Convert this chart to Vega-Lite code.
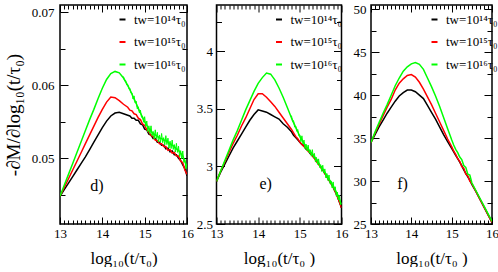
{
  "$schema": "https://vega.github.io/schema/vega-lite/v6.json",
  "padding": {"left": 3, "top": 2, "right": 0, "bottom": 0},
  "autosize": {"type": "pad"},
  "bounds": "flush",
  "spacing": 29.5,
  "config": {
    "font": "Liberation Serif",
    "view": {"stroke": "#000000", "strokeWidth": 1.5},
    "axis": {"domain": false, "grid": false, "tickColor": "#000000", "tickWidth": 1, "labelColor": "#000000", "titleColor": "#000000", "labelFont": "Liberation Serif", "titleFont": "Liberation Serif", "labelFontSize": 13, "titleFontWeight": "normal", "labelOverlap": false, "labelBound": false, "labelFlush": false, "format": "~g"},
    "legend": {"orient": "none", "legendX": 56, "legendY": 8, "title": null, "symbolType": "stroke", "symbolSize": 36, "symbolStrokeWidth": 2, "labelFont": "Liberation Serif", "labelFontSize": 13, "labelColor": "#000000", "rowPadding": 8.5, "labelOffset": 5, "padding": 0}
  },
  "datasets": {
    "d": [
      {"t": 13.0, "a": 0.0448, "b": 0.0448, "c": 0.0448},
      {"t": 13.1, "a": 0.0457, "b": 0.0460, "c": 0.0463},
      {"t": 13.2, "a": 0.0466, "b": 0.0472, "c": 0.0478},
      {"t": 13.3, "a": 0.0475, "b": 0.0484, "c": 0.0493},
      {"t": 13.4, "a": 0.0484, "b": 0.0496, "c": 0.0508},
      {"t": 13.5, "a": 0.0493, "b": 0.0508, "c": 0.0523},
      {"t": 13.6, "a": 0.0502, "b": 0.0520, "c": 0.0538},
      {"t": 13.7, "a": 0.0512, "b": 0.0532, "c": 0.0553},
      {"t": 13.8, "a": 0.0522, "b": 0.0544, "c": 0.0567},
      {"t": 13.9, "a": 0.0532, "b": 0.0556, "c": 0.0582},
      {"t": 14.0, "a": 0.0542, "b": 0.0567, "c": 0.0596},
      {"t": 14.1, "a": 0.0551, "b": 0.0577, "c": 0.0608},
      {"t": 14.2, "a": 0.0558, "b": 0.0584, "c": 0.0616},
      {"t": 14.3, "a": 0.0562, "b": 0.0583, "c": 0.0619},
      {"t": 14.4, "a": 0.0563, "b": 0.0579, "c": 0.0617},
      {"t": 14.5, "a": 0.0561, "b": 0.0574, "c": 0.0610},
      {"t": 14.6, "a": 0.0559, "b": 0.0570, "c": 0.0600},
      {"t": 14.65, "a": 0.0558, "b": 0.0566, "c": 0.0594},
      {"t": 14.7, "a": 0.0555, "b": 0.0565, "c": 0.0588},
      {"t": 14.75, "a": 0.0555, "b": 0.0561, "c": 0.0581},
      {"t": 14.8, "a": 0.0552, "b": 0.0560, "c": 0.0575},
      {"t": 14.85, "a": 0.0552, "b": 0.0555, "c": 0.0568},
      {"t": 14.9, "a": 0.0547, "b": 0.0553, "c": 0.0562},
      {"t": 14.95, "a": 0.0546, "b": 0.0547, "c": 0.0556},
      {"t": 15.0, "a": 0.0540, "b": 0.0545, "c": 0.0550},
      {"t": 15.05, "a": 0.0539, "b": 0.0539, "c": 0.0545},
      {"t": 15.1, "a": 0.0533, "b": 0.0536, "c": 0.0541},
      {"t": 15.15, "a": 0.0532, "b": 0.0531, "c": 0.0537},
      {"t": 15.2, "a": 0.0527, "b": 0.0530, "c": 0.0534},
      {"t": 15.25, "a": 0.0527, "b": 0.0525, "c": 0.0532},
      {"t": 15.3, "a": 0.0522, "b": 0.0524, "c": 0.0530},
      {"t": 15.35, "a": 0.0522, "b": 0.0520, "c": 0.0528},
      {"t": 15.4, "a": 0.0518, "b": 0.0520, "c": 0.0527},
      {"t": 15.45, "a": 0.0518, "b": 0.0516, "c": 0.0525},
      {"t": 15.5, "a": 0.0513, "b": 0.0516, "c": 0.0524},
      {"t": 15.55, "a": 0.0514, "b": 0.0511, "c": 0.0522},
      {"t": 15.6, "a": 0.0509, "b": 0.0512, "c": 0.0520},
      {"t": 15.65, "a": 0.0510, "b": 0.0507, "c": 0.0518},
      {"t": 15.7, "a": 0.0505, "b": 0.0508, "c": 0.0516},
      {"t": 15.75, "a": 0.0505, "b": 0.0503, "c": 0.0513},
      {"t": 15.8, "a": 0.0500, "b": 0.0503, "c": 0.0511},
      {"t": 15.85, "a": 0.0497, "b": 0.0496, "c": 0.0507},
      {"t": 15.9, "a": 0.0491, "b": 0.0494, "c": 0.0503},
      {"t": 15.95, "a": 0.0486, "b": 0.0484, "c": 0.0496},
      {"t": 16.0, "a": 0.0476, "b": 0.0478, "c": 0.0488}
    ],
    "dg": [
      {"t": 14.5, "v": 0.0612}, {"t": 14.525, "v": 0.06063}, {"t": 14.55, "v": 0.06068}, {"t": 14.575, "v": 0.06005},
      {"t": 14.6, "v": 0.0601}, {"t": 14.625, "v": 0.05954}, {"t": 14.65, "v": 0.0596}, {"t": 14.675, "v": 0.05896},
      {"t": 14.7, "v": 0.05896}, {"t": 14.725, "v": 0.05812}, {"t": 14.75, "v": 0.05855}, {"t": 14.775, "v": 0.05759},
      {"t": 14.8, "v": 0.05782}, {"t": 14.825, "v": 0.05678}, {"t": 14.85, "v": 0.05705}, {"t": 14.875, "v": 0.05621},
      {"t": 14.9, "v": 0.0566}, {"t": 14.925, "v": 0.05562}, {"t": 14.95, "v": 0.05576}, {"t": 14.975, "v": 0.05494},
      {"t": 15.0, "v": 0.0557}, {"t": 15.025, "v": 0.05436}, {"t": 15.05, "v": 0.05511}, {"t": 15.075, "v": 0.05363},
      {"t": 15.1, "v": 0.05445}, {"t": 15.125, "v": 0.05337}, {"t": 15.15, "v": 0.05445}, {"t": 15.175, "v": 0.05309},
      {"t": 15.2, "v": 0.05368}, {"t": 15.225, "v": 0.05267}, {"t": 15.25, "v": 0.0539}, {"t": 15.275, "v": 0.05268},
      {"t": 15.3, "v": 0.05356}, {"t": 15.325, "v": 0.05223}, {"t": 15.35, "v": 0.0532}, {"t": 15.375, "v": 0.05222},
      {"t": 15.4, "v": 0.0534}, {"t": 15.425, "v": 0.05214}, {"t": 15.45, "v": 0.05283}, {"t": 15.475, "v": 0.05185},
      {"t": 15.5, "v": 0.0531}, {"t": 15.525, "v": 0.05188}, {"t": 15.55, "v": 0.05276}, {"t": 15.575, "v": 0.0514},
      {"t": 15.6, "v": 0.05235}, {"t": 15.625, "v": 0.05134}, {"t": 15.65, "v": 0.0525}, {"t": 15.675, "v": 0.05121},
      {"t": 15.7, "v": 0.05188}, {"t": 15.725, "v": 0.05085}, {"t": 15.75, "v": 0.05205}, {"t": 15.775, "v": 0.05081},
      {"t": 15.8, "v": 0.05166}, {"t": 15.825, "v": 0.0502}, {"t": 15.85, "v": 0.05105}, {"t": 15.875, "v": 0.04994},
      {"t": 15.9, "v": 0.051}, {"t": 15.925, "v": 0.04944}, {"t": 15.95, "v": 0.04983}, {"t": 15.975, "v": 0.04855},
      {"t": 16.0, "v": 0.0492}
    ],
    "e": [
      {"t": 13.0, "a": 2.87, "b": 2.87, "c": 2.87},
      {"t": 13.1, "a": 2.95, "b": 2.96, "c": 2.96},
      {"t": 13.2, "a": 3.02, "b": 3.04, "c": 3.05},
      {"t": 13.3, "a": 3.09, "b": 3.12, "c": 3.14},
      {"t": 13.4, "a": 3.16, "b": 3.20, "c": 3.23},
      {"t": 13.5, "a": 3.22, "b": 3.27, "c": 3.31},
      {"t": 13.6, "a": 3.28, "b": 3.35, "c": 3.40},
      {"t": 13.7, "a": 3.34, "b": 3.42, "c": 3.49},
      {"t": 13.8, "a": 3.40, "b": 3.50, "c": 3.57},
      {"t": 13.9, "a": 3.45, "b": 3.58, "c": 3.65},
      {"t": 14.0, "a": 3.49, "b": 3.63, "c": 3.72},
      {"t": 14.1, "a": 3.48, "b": 3.63, "c": 3.77},
      {"t": 14.2, "a": 3.47, "b": 3.60, "c": 3.81},
      {"t": 14.3, "a": 3.45, "b": 3.56, "c": 3.80},
      {"t": 14.4, "a": 3.43, "b": 3.52, "c": 3.75},
      {"t": 14.5, "a": 3.41, "b": 3.47, "c": 3.68},
      {"t": 14.6, "a": 3.37, "b": 3.42, "c": 3.60},
      {"t": 14.7, "a": 3.34, "b": 3.37, "c": 3.51},
      {"t": 14.8, "a": 3.30, "b": 3.32, "c": 3.42},
      {"t": 14.85, "a": 3.27, "b": 3.29, "c": 3.38},
      {"t": 14.9, "a": 3.25, "b": 3.26, "c": 3.34},
      {"t": 14.95, "a": 3.23, "b": 3.24, "c": 3.30},
      {"t": 15.0, "a": 3.21, "b": 3.21, "c": 3.26},
      {"t": 15.05, "a": 3.19, "b": 3.19, "c": 3.23},
      {"t": 15.1, "a": 3.18, "b": 3.17, "c": 3.20},
      {"t": 15.15, "a": 3.15, "b": 3.16, "c": 3.175},
      {"t": 15.2, "a": 3.14, "b": 3.13, "c": 3.15},
      {"t": 15.25, "a": 3.11, "b": 3.12, "c": 3.13},
      {"t": 15.3, "a": 3.10, "b": 3.09, "c": 3.11},
      {"t": 15.35, "a": 3.07, "b": 3.07, "c": 3.085},
      {"t": 15.4, "a": 3.06, "b": 3.04, "c": 3.06},
      {"t": 15.45, "a": 3.02, "b": 3.02, "c": 3.03},
      {"t": 15.5, "a": 3.00, "b": 2.99, "c": 3.00},
      {"t": 15.55, "a": 2.97, "b": 2.97, "c": 2.975},
      {"t": 15.6, "a": 2.94, "b": 2.94, "c": 2.95},
      {"t": 15.65, "a": 2.91, "b": 2.91, "c": 2.92},
      {"t": 15.7, "a": 2.88, "b": 2.88, "c": 2.89},
      {"t": 15.75, "a": 2.85, "b": 2.85, "c": 2.86},
      {"t": 15.8, "a": 2.82, "b": 2.82, "c": 2.83},
      {"t": 15.85, "a": 2.78, "b": 2.78, "c": 2.795},
      {"t": 15.9, "a": 2.74, "b": 2.74, "c": 2.76},
      {"t": 15.95, "a": 2.69, "b": 2.69, "c": 2.715},
      {"t": 16.0, "a": 2.64, "b": 2.64, "c": 2.67}
    ],
    "eg": [
      {"t": 14.8, "v": 3.44}, {"t": 14.825, "v": 3.388}, {"t": 14.85, "v": 3.396}, {"t": 14.875, "v": 3.34},
      {"t": 14.9, "v": 3.35}, {"t": 14.925, "v": 3.304}, {"t": 14.95, "v": 3.32}, {"t": 14.975, "v": 3.266},
      {"t": 15.0, "v": 3.274}, {"t": 15.025, "v": 3.2135}, {"t": 15.05, "v": 3.265}, {"t": 15.075, "v": 3.194},
      {"t": 15.1, "v": 3.228}, {"t": 15.125, "v": 3.1525}, {"t": 15.15, "v": 3.1925}, {"t": 15.175, "v": 3.1345},
      {"t": 15.2, "v": 3.185}, {"t": 15.225, "v": 3.1155}, {"t": 15.25, "v": 3.144}, {"t": 15.275, "v": 3.0885},
      {"t": 15.3, "v": 3.145}, {"t": 15.325, "v": 3.0765}, {"t": 15.35, "v": 3.113}, {"t": 15.375, "v": 3.0375},
      {"t": 15.4, "v": 3.0775}, {"t": 15.425, "v": 3.017}, {"t": 15.45, "v": 3.065}, {"t": 15.475, "v": 2.9905},
      {"t": 15.5, "v": 3.014}, {"t": 15.525, "v": 2.956}, {"t": 15.55, "v": 3.01}, {"t": 15.575, "v": 2.9415},
      {"t": 15.6, "v": 2.978}, {"t": 15.625, "v": 2.90}, {"t": 15.65, "v": 2.9375}, {"t": 15.675, "v": 2.877},
      {"t": 15.7, "v": 2.925}, {"t": 15.725, "v": 2.8505}, {"t": 15.75, "v": 2.874}, {"t": 15.775, "v": 2.8135},
      {"t": 15.8, "v": 2.865}, {"t": 15.825, "v": 2.7915}, {"t": 15.85, "v": 2.823}, {"t": 15.875, "v": 2.7425},
      {"t": 15.9, "v": 2.7775}, {"t": 15.925, "v": 2.7095}, {"t": 15.95, "v": 2.75}, {"t": 15.975, "v": 2.668},
      {"t": 16.0, "v": 2.684}
    ],
    "f": [
      {"t": 13.0, "a": 34.5, "b": 34.5, "c": 34.5},
      {"t": 13.1, "a": 35.4, "b": 35.6, "c": 35.7},
      {"t": 13.2, "a": 36.3, "b": 36.6, "c": 36.8},
      {"t": 13.3, "a": 37.1, "b": 37.6, "c": 37.9},
      {"t": 13.4, "a": 37.9, "b": 38.6, "c": 38.9},
      {"t": 13.5, "a": 38.6, "b": 39.5, "c": 40.0},
      {"t": 13.6, "a": 39.3, "b": 40.6, "c": 41.1},
      {"t": 13.7, "a": 39.9, "b": 41.4, "c": 42.0},
      {"t": 13.8, "a": 40.3, "b": 41.9, "c": 42.8},
      {"t": 13.9, "a": 40.6, "b": 42.3, "c": 43.3},
      {"t": 14.0, "a": 40.6, "b": 42.4, "c": 43.65},
      {"t": 14.1, "a": 40.4, "b": 42.1, "c": 43.8},
      {"t": 14.2, "a": 40.0, "b": 41.5, "c": 43.6},
      {"t": 14.3, "a": 39.6, "b": 40.7, "c": 43.0},
      {"t": 14.4, "a": 38.8, "b": 39.8, "c": 42.0},
      {"t": 14.5, "a": 38.0, "b": 38.9, "c": 41.0},
      {"t": 14.6, "a": 37.2, "b": 37.9, "c": 39.9},
      {"t": 14.7, "a": 36.3, "b": 36.9, "c": 38.7},
      {"t": 14.8, "a": 35.4, "b": 35.9, "c": 37.4},
      {"t": 14.9, "a": 34.6, "b": 34.9, "c": 36.1},
      {"t": 15.0, "a": 33.8, "b": 34.0, "c": 34.8},
      {"t": 15.05, "a": 33.4, "b": 33.5, "c": 34.2},
      {"t": 15.1, "a": 33.0, "b": 33.1, "c": 33.7},
      {"t": 15.15, "a": 32.6, "b": 32.6, "c": 33.3},
      {"t": 15.2, "a": 32.2, "b": 32.3, "c": 32.8},
      {"t": 15.25, "a": 31.8, "b": 31.7, "c": 32.5},
      {"t": 15.3, "a": 31.3, "b": 31.5, "c": 31.8},
      {"t": 15.35, "a": 30.9, "b": 30.8, "c": 31.6},
      {"t": 15.4, "a": 30.5, "b": 30.6, "c": 30.8},
      {"t": 15.45, "a": 30.1, "b": 30.0, "c": 30.7},
      {"t": 15.5, "a": 29.6, "b": 29.7, "c": 29.8},
      {"t": 15.6, "a": 28.8, "b": 28.8, "c": 28.9},
      {"t": 15.7, "a": 27.9, "b": 27.9, "c": 28.0},
      {"t": 15.8, "a": 27.0, "b": 27.0, "c": 27.1},
      {"t": 15.9, "a": 26.1, "b": 26.1, "c": 26.2},
      {"t": 16.0, "a": 25.2, "b": 25.2, "c": 25.3}
    ]
  },
  "resolve": {"scale": {"color": "independent", "x": "independent", "y": "independent"}, "legend": {"color": "independent"}},
  "hconcat": [
    {
      "width": 127, "height": 219,
      "layer": [
        {
          "data": {"name": "d"},
          "transform": [{"fold": ["a", "b", "c"], "as": ["s", "v"]}],
          "mark": {"type": "line", "strokeWidth": 1.5, "clip": true},
          "encoding": {
            "x": {"field": "t", "type": "quantitative", "scale": {"domain": [13, 16], "nice": false, "zero": false},
              "axis": {"orient": "bottom", "title": "log₁₀(t/τ₀)", "titleFontSize": 17, "titlePadding": 7, "labelPadding": 10, "values": [13,13.1,13.2,13.3,13.4,13.5,13.6,13.7,13.8,13.9,14,14.1,14.2,14.3,14.4,14.5,14.6,14.7,14.8,14.9,15,15.1,15.2,15.3,15.4,15.5,15.6,15.7,15.8,15.9,16],
                "labelExpr": "abs(datum.value-round(datum.value))<0.001 ? datum.label : ''",
                "tickSize": {"condition": {"test": "abs(datum.value-round(datum.value))<0.001", "value": -7}, "value": -4}}},
            "y": {"field": "v", "type": "quantitative", "scale": {"domain": [0.041, 0.071], "nice": false, "zero": false},
              "axis": {"orient": "left", "title": "-∂M/∂log₁₀(t/τ₀)", "titleFontSize": 19, "titlePadding": 8, "labelPadding": 14, "values": [0.045,0.05,0.055,0.06,0.065,0.07],
                "labelExpr": "abs(datum.value*100-round(datum.value*100))<0.001 ? datum.label : ''",
                "tickSize": {"condition": {"test": "abs(datum.value*100-round(datum.value*100))<0.001", "value": -8}, "value": -5}}},
            "color": {"field": "s", "type": "nominal", "scale": {"domain": ["a", "b", "c"], "range": ["#000000", "#ff0000", "#00ff00"]},
              "legend": {"orient": "none", "legendX": 56, "legendY": 8, "labelExpr": "datum.value=='a' ? 'tw=10¹⁴τ₀' : datum.value=='b' ? 'tw=10¹⁵τ₀' : 'tw=10¹⁶τ₀'"}}
          }
        },
        {
          "data": {"name": "dg"},
          "mark": {"type": "line", "strokeWidth": 1, "color": "#00ff00", "clip": true},
          "encoding": {
            "x": {"field": "t", "type": "quantitative", "scale": {"domain": [13, 16], "nice": false, "zero": false}, "axis": null},
            "y": {"field": "v", "type": "quantitative", "scale": {"domain": [0.041, 0.071], "nice": false, "zero": false}, "axis": null}
          }
        },
        {
          "data": {"values": [{"t": 13.87, "v": 0.0462, "lab": "d)"}]},
          "mark": {"type": "text", "fontSize": 16, "font": "Liberation Serif", "color": "#000000"},
          "encoding": {
            "x": {"field": "t", "type": "quantitative", "scale": {"domain": [13, 16], "nice": false, "zero": false}, "axis": null},
            "y": {"field": "v", "type": "quantitative", "scale": {"domain": [0.041, 0.071], "nice": false, "zero": false}, "axis": null},
            "text": {"field": "lab"}
          }
        },
        {
          "data": {"name": "d"},
          "mark": {"type": "point", "opacity": 0},
          "encoding": {
            "x": {"field": "t", "type": "quantitative", "scale": {"domain": [13, 16], "nice": false, "zero": false},
              "axis": {"orient": "top", "title": null, "labels": false, "values": [13,13.1,13.2,13.3,13.4,13.5,13.6,13.7,13.8,13.9,14,14.1,14.2,14.3,14.4,14.5,14.6,14.7,14.8,14.9,15,15.1,15.2,15.3,15.4,15.5,15.6,15.7,15.8,15.9,16],
                "tickSize": {"condition": {"test": "abs(datum.value-round(datum.value))<0.001", "value": -7}, "value": -4}}},
            "y": {"field": "a", "type": "quantitative", "scale": {"domain": [0.041, 0.071], "nice": false, "zero": false},
              "axis": {"orient": "right", "title": null, "labels": false, "values": [0.045,0.05,0.055,0.06,0.065,0.07],
                "tickSize": {"condition": {"test": "abs(datum.value*100-round(datum.value*100))<0.001", "value": -8}, "value": -5}}}
          }
        }
      ]
    },
    {
      "width": 125, "height": 219,
      "layer": [
        {
          "data": {"name": "e"},
          "transform": [{"fold": ["a", "b", "c"], "as": ["s", "v"]}],
          "mark": {"type": "line", "strokeWidth": 1.5, "clip": true},
          "encoding": {
            "x": {"field": "t", "type": "quantitative", "scale": {"domain": [13, 16], "nice": false, "zero": false},
              "axis": {"orient": "bottom", "title": "log₁₀(t/τ₀ )", "titleFontSize": 17, "titlePadding": 7, "labelPadding": 10, "values": [13,13.1,13.2,13.3,13.4,13.5,13.6,13.7,13.8,13.9,14,14.1,14.2,14.3,14.4,14.5,14.6,14.7,14.8,14.9,15,15.1,15.2,15.3,15.4,15.5,15.6,15.7,15.8,15.9,16],
                "labelExpr": "abs(datum.value-round(datum.value))<0.001 ? datum.label : ''",
                "tickSize": {"condition": {"test": "abs(datum.value-round(datum.value))<0.001", "value": -7}, "value": -4}}},
            "y": {"field": "v", "type": "quantitative", "scale": {"domain": [2.5, 4.4], "nice": false, "zero": false},
              "axis": {"orient": "left", "title": null, "labelPadding": 12, "values": [2.5,2.75,3,3.25,3.5,3.75,4,4.25],
                "labelExpr": "abs(datum.value*2-round(datum.value*2))<0.001 ? datum.label : ''",
                "tickSize": {"condition": {"test": "abs(datum.value*2-round(datum.value*2))<0.001", "value": -8}, "value": -5}}},
            "color": {"field": "s", "type": "nominal", "scale": {"domain": ["a", "b", "c"], "range": ["#000000", "#ff0000", "#00ff00"]},
              "legend": {"orient": "none", "legendX": 56, "legendY": 8, "labelExpr": "datum.value=='a' ? 'tw=10¹⁴τ₀' : datum.value=='b' ? 'tw=10¹⁵τ₀' : 'tw=10¹⁶τ₀'"}}
          }
        },
        {
          "data": {"name": "eg"},
          "mark": {"type": "line", "strokeWidth": 1, "color": "#00ff00", "clip": true},
          "encoding": {
            "x": {"field": "t", "type": "quantitative", "scale": {"domain": [13, 16], "nice": false, "zero": false}, "axis": null},
            "y": {"field": "v", "type": "quantitative", "scale": {"domain": [2.5, 4.4], "nice": false, "zero": false}, "axis": null}
          }
        },
        {
          "data": {"values": [{"t": 14.18, "v": 2.85, "lab": "e)"}]},
          "mark": {"type": "text", "fontSize": 16, "font": "Liberation Serif", "color": "#000000"},
          "encoding": {
            "x": {"field": "t", "type": "quantitative", "scale": {"domain": [13, 16], "nice": false, "zero": false}, "axis": null},
            "y": {"field": "v", "type": "quantitative", "scale": {"domain": [2.5, 4.4], "nice": false, "zero": false}, "axis": null},
            "text": {"field": "lab"}
          }
        },
        {
          "data": {"name": "e"},
          "mark": {"type": "point", "opacity": 0},
          "encoding": {
            "x": {"field": "t", "type": "quantitative", "scale": {"domain": [13, 16], "nice": false, "zero": false},
              "axis": {"orient": "top", "title": null, "labels": false, "values": [13,13.1,13.2,13.3,13.4,13.5,13.6,13.7,13.8,13.9,14,14.1,14.2,14.3,14.4,14.5,14.6,14.7,14.8,14.9,15,15.1,15.2,15.3,15.4,15.5,15.6,15.7,15.8,15.9,16],
                "tickSize": {"condition": {"test": "abs(datum.value-round(datum.value))<0.001", "value": -7}, "value": -4}}},
            "y": {"field": "a", "type": "quantitative", "scale": {"domain": [2.5, 4.4], "nice": false, "zero": false},
              "axis": {"orient": "right", "title": null, "labels": false, "values": [2.5,2.75,3,3.25,3.5,3.75,4,4.25],
                "tickSize": {"condition": {"test": "abs(datum.value*2-round(datum.value*2))<0.001", "value": -8}, "value": -5}}}
          }
        }
      ]
    },
    {
      "width": 121, "height": 219,
      "layer": [
        {
          "data": {"name": "f"},
          "transform": [{"fold": ["a", "b", "c"], "as": ["s", "v"]}],
          "mark": {"type": "line", "strokeWidth": 1.5, "clip": true},
          "encoding": {
            "x": {"field": "t", "type": "quantitative", "scale": {"domain": [13, 16], "nice": false, "zero": false},
              "axis": {"orient": "bottom", "title": "log₁₀(t/τ₀ )", "titleFontSize": 17, "titlePadding": 7, "labelPadding": 10, "values": [13,13.1,13.2,13.3,13.4,13.5,13.6,13.7,13.8,13.9,14,14.1,14.2,14.3,14.4,14.5,14.6,14.7,14.8,14.9,15,15.1,15.2,15.3,15.4,15.5,15.6,15.7,15.8,15.9,16],
                "labelExpr": "abs(datum.value-round(datum.value))<0.001 ? datum.label : ''",
                "tickSize": {"condition": {"test": "abs(datum.value-round(datum.value))<0.001", "value": -7}, "value": -4}}},
            "y": {"field": "v", "type": "quantitative", "scale": {"domain": [25, 50.5], "nice": false, "zero": false},
              "axis": {"orient": "left", "title": null, "labelPadding": 13, "values": [25,27.5,30,32.5,35,37.5,40,42.5,45,47.5,50],
                "labelExpr": "abs(datum.value/5-round(datum.value/5))<0.001 ? datum.label : ''",
                "tickSize": {"condition": {"test": "abs(datum.value/5-round(datum.value/5))<0.001", "value": -8}, "value": -5}}},
            "color": {"field": "s", "type": "nominal", "scale": {"domain": ["a", "b", "c"], "range": ["#000000", "#ff0000", "#00ff00"]},
              "legend": {"orient": "none", "legendX": 57, "legendY": 8, "labelExpr": "datum.value=='a' ? 'tw=10¹⁴τ₀' : datum.value=='b' ? 'tw=10¹⁵τ₀' : 'tw=10¹⁶τ₀'"}}
          }
        },
        {
          "data": {"values": [{"t": 13.78, "v": 29.65, "lab": "f)"}]},
          "mark": {"type": "text", "fontSize": 16, "font": "Liberation Serif", "color": "#000000"},
          "encoding": {
            "x": {"field": "t", "type": "quantitative", "scale": {"domain": [13, 16], "nice": false, "zero": false}, "axis": null},
            "y": {"field": "v", "type": "quantitative", "scale": {"domain": [25, 50.5], "nice": false, "zero": false}, "axis": null},
            "text": {"field": "lab"}
          }
        },
        {
          "data": {"name": "f"},
          "mark": {"type": "point", "opacity": 0},
          "encoding": {
            "x": {"field": "t", "type": "quantitative", "scale": {"domain": [13, 16], "nice": false, "zero": false},
              "axis": {"orient": "top", "title": null, "labels": false, "values": [13,13.1,13.2,13.3,13.4,13.5,13.6,13.7,13.8,13.9,14,14.1,14.2,14.3,14.4,14.5,14.6,14.7,14.8,14.9,15,15.1,15.2,15.3,15.4,15.5,15.6,15.7,15.8,15.9,16],
                "tickSize": {"condition": {"test": "abs(datum.value-round(datum.value))<0.001", "value": -7}, "value": -4}}},
            "y": {"field": "a", "type": "quantitative", "scale": {"domain": [25, 50.5], "nice": false, "zero": false},
              "axis": {"orient": "right", "title": null, "labels": false, "values": [25,27.5,30,32.5,35,37.5,40,42.5,45,47.5,50],
                "tickSize": {"condition": {"test": "abs(datum.value/5-round(datum.value/5))<0.001", "value": -8}, "value": -5}}}
          }
        }
      ]
    }
  ]
}
